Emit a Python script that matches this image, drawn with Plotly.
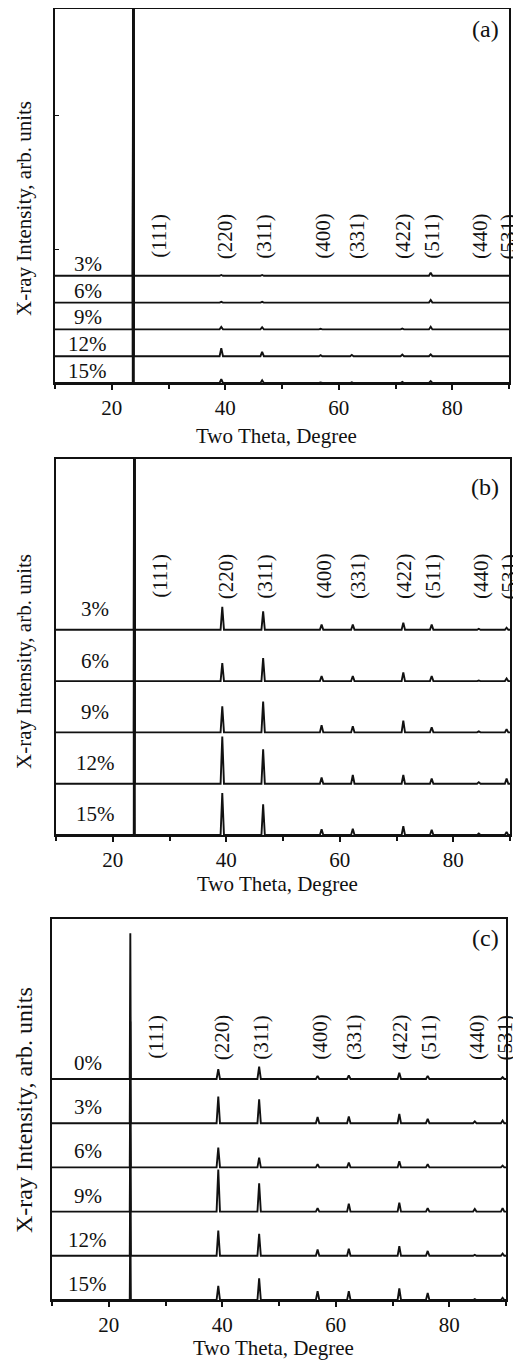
import plotly.graph_objects as go

# ---------------- data ----------------
# 2-theta sampling points (baseline + each reflection: foot, apex, foot)
two_theta = [10.0,
             23.7, 23.8, 23.9,
             39.0, 39.3, 39.6,
             46.2, 46.5, 46.8,
             56.5, 56.8, 57.1,
             62.0, 62.3, 62.6,
             70.9, 71.2, 71.5,
             75.9, 76.2, 76.5,
             84.2, 84.5, 84.8,
             89.1, 89.4, 89.7,
             90.0]

hkl_labels = ["(111)", "(220)", "(311)", "(400)", "(331)", "(422)", "(511)", "(440)", "(531)"]
hkl_two_theta = [28.3, 40.0, 46.8, 57.2, 63.2, 71.3, 76.4, 84.9, 89.9]

# apex heights (in units of curve spacing) at 23.8, 39.3, 46.5, 56.8, 62.3, 71.2, 76.2, 84.5, 89.4
a_labels = ["3%", "6%", "9%", "12%", "15%"]
a_3 = [20, 0.03, 0.03, 0.00, 0.00, 0.02, 0.12, 0.00, 0.00]
a_6 = [20, 0.03, 0.03, 0.00, 0.00, 0.02, 0.10, 0.00, 0.00]
a_9 = [20, 0.09, 0.08, 0.02, 0.02, 0.03, 0.10, 0.00, 0.00]
a_12 = [20, 0.30, 0.16, 0.04, 0.05, 0.06, 0.07, 0.00, 0.00]
a_15 = [20, 0.14, 0.10, 0.02, 0.03, 0.04, 0.07, 0.00, 0.00]

b_labels = ["3%", "6%", "9%", "12%", "15%"]
b_3 = [8, 0.45, 0.36, 0.10, 0.10, 0.14, 0.10, 0.02, 0.04]
b_6 = [8, 0.35, 0.45, 0.10, 0.10, 0.17, 0.10, 0.01, 0.05]
b_9 = [8, 0.51, 0.60, 0.14, 0.12, 0.23, 0.10, 0.02, 0.06]
b_12 = [8, 0.92, 0.67, 0.12, 0.17, 0.17, 0.10, 0.03, 0.10]
b_15 = [8, 0.82, 0.60, 0.11, 0.12, 0.17, 0.10, 0.03, 0.06]

c_labels = ["0%", "3%", "6%", "9%", "12%", "15%"]
c_0 = [3.30, 0.22, 0.28, 0.07, 0.08, 0.14, 0.07, 0.00, 0.04]
c_3 = [2.30, 0.60, 0.54, 0.14, 0.15, 0.21, 0.10, 0.04, 0.06]
c_6 = [2.00, 0.45, 0.22, 0.07, 0.11, 0.14, 0.07, 0.00, 0.04]
c_9 = [2.00, 0.95, 0.64, 0.08, 0.18, 0.20, 0.08, 0.06, 0.08]
c_12 = [2.00, 0.57, 0.50, 0.14, 0.16, 0.22, 0.11, 0.02, 0.05]
c_15 = [2.00, 0.32, 0.49, 0.20, 0.20, 0.26, 0.16, 0.02, 0.05]

panels = [
    ("(a)", a_labels, [a_3, a_6, a_9, a_12, a_15]),
    ("(b)", b_labels, [b_3, b_6, b_9, b_12, b_15]),
    ("(c)", c_labels, [c_0, c_3, c_6, c_9, c_12, c_15]),
]

# ---------------- layout geometry ----------------
PAGE_OFF = 8                 # default body margin of the html page
W, H = 521 - PAGE_OFF, 1360 - PAGE_OFF
FONT = "Liberation Serif"
INK = "#111111"

# pixel boxes in page coordinates: (left, right, top, bottom)
boxes = [(55, 509, 9, 383), (56, 510, 459, 835), (52, 506, 919, 1300)]
spacing_px = [26.8, 51.3, 44.2]
label_x = [15.8, 16.9, 16.3]        # series label centre (deg)
label_dy = [0.45, 0.40, 0.36]      # series label height above its baseline
hkl_y_px = [236, 576, 1037]         # vertical centre of hkl labels
panel_tag_y = [29, 487, 938]
xtitle_y = [436, 884, 1348]
ytitle_y = [209, 662, 1110]
ytitle_size = [21, 21, 24]


def px_x(v):
    return (v - PAGE_OFF) / W


def px_y(v):
    return 1 - (v - PAGE_OFF) / H


def peak_curve(heights, offset):
    y = [offset]
    for h in heights:
        y += [offset, offset + h, offset]
    y.append(offset)
    return y


fig = go.Figure()
annotations = []
layout = {}

for p, (tag, labels, series) in enumerate(panels):
    sfx = "" if p == 0 else str(p + 1)
    xa, ya = "x" + sfx, "y" + sfx
    left, right, top, bottom = boxes[p]
    n = len(series)
    yrange_top = (bottom - top) / spacing_px[p]
    for i, (lab, hts) in enumerate(zip(labels, series)):
        off = n - 1 - i
        fig.add_trace(go.Scatter(
            x=two_theta, y=peak_curve(hts, off), mode="lines",
            line=dict(color=INK, width=1.9), xaxis=xa, yaxis=ya,
            showlegend=False, name=lab, hoverinfo="skip"))
        annotations.append(dict(
            x=label_x[p], y=off + label_dy[p], xref=xa, yref=ya, text=lab,
            showarrow=False, xanchor="center", yanchor="middle",
            font=dict(family=FONT, size=21, color=INK)))
    hkl_y = (bottom - hkl_y_px[p]) / spacing_px[p]
    for lab, tt in zip(hkl_labels, hkl_two_theta):
        annotations.append(dict(
            x=tt, y=hkl_y, xref=xa, yref=ya, text=lab, textangle=-90,
            showarrow=False, xanchor="center", yanchor="middle",
            font=dict(family=FONT, size=21, color=INK)))
    annotations.append(dict(
        x=px_x(485), y=px_y(panel_tag_y[p]), xref="paper", yref="paper", text=tag,
        showarrow=False, xanchor="center", yanchor="middle",
        font=dict(family=FONT, size=24, color=INK)))
    annotations.append(dict(
        x=px_x((left + right) / 2 - 6), y=px_y(xtitle_y[p]), xref="paper", yref="paper",
        text="Two Theta, Degree", showarrow=False, xanchor="center", yanchor="middle",
        font=dict(family=FONT, size=21, color=INK)))
    annotations.append(dict(
        x=px_x(24), y=px_y(ytitle_y[p]), xref="paper", yref="paper",
        text="X-ray Intensity, arb. units", textangle=-90, showarrow=False,
        xanchor="center", yanchor="middle",
        font=dict(family=FONT, size=ytitle_size[p], color=INK)))

    layout["xaxis" + sfx] = dict(
        domain=[px_x(left), px_x(right)], anchor=ya, range=[10, 90],
        tick0=0, dtick=20, ticks="outside", ticklen=5, tickwidth=1.5, tickcolor=INK,
        minor=dict(dtick=10, tick0=0, ticks="outside", ticklen=4, tickwidth=1.5, tickcolor=INK),
        showline=True, linewidth=2, linecolor=INK, mirror=True,
        showgrid=False, zeroline=False, ticklabelstandoff=0,
        tickfont=dict(family=FONT, size=21, color=INK))
    layout["yaxis" + sfx] = dict(
        domain=[px_y(bottom), min(1.0, px_y(top))], anchor=xa, range=[0, yrange_top],
        showline=True, linewidth=2, linecolor=INK, mirror=True,
        showgrid=False, zeroline=False, showticklabels=False,
        ticks="inside" if p == 0 else "", tickvals=[5, 10] if p == 0 else [],
        ticklen=4, tickcolor=INK)
    # inward top ticks
    layout["xaxis" + str(p + 4)] = dict(
        overlaying=xa, anchor=ya, side="top", range=[10, 90],
        tick0=0, dtick=10, ticks="inside", ticklen=4, tickwidth=1.5, tickcolor=INK,
        showticklabels=False, showline=False, showgrid=False, zeroline=False)

fig.update_layout(
    width=W, height=H, margin=dict(l=0, r=0, t=0, b=0),
    paper_bgcolor="white", plot_bgcolor="white",
    annotations=annotations, **layout)

fig.write_html("out.html")
